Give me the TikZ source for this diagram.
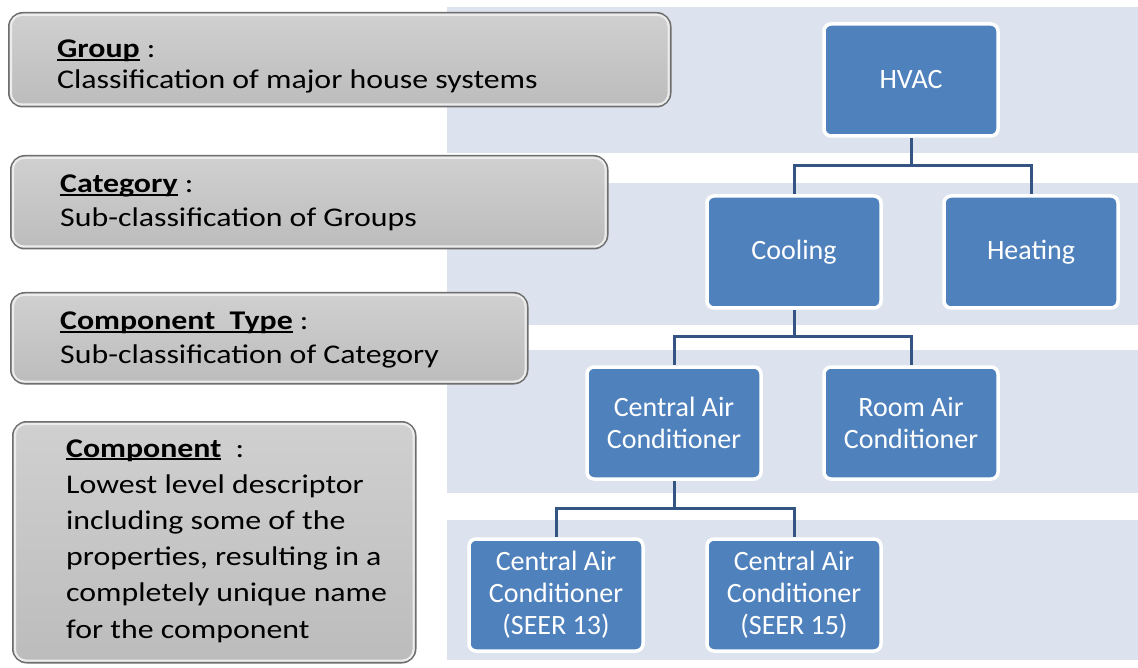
\documentclass[tikz,border=0pt]{standalone}
\usepackage{fontspec}
\setmainfont{Carlito}
\newfontfamily\leftfont[FakeStretch=1.18]{Carlito}
\pgfdeclarelayer{bands}
\pgfdeclarelayer{edges}
\pgfsetlayers{bands,edges,main}
\newcommand{\ulword}[1]{\setbox0\hbox{#1}\rlap{\rule[-3.2pt]{\wd0}{1.8pt}}\box0\relax}
\definecolor{boxtop}{RGB}{208,208,208}
\definecolor{boxbot}{RGB}{188,188,188}
\definecolor{boxedge}{RGB}{110,110,110}
\definecolor{bandblue}{RGB}{220,227,238}
\definecolor{nodeblue}{RGB}{79,129,189}
\definecolor{connblue}{RGB}{52,84,132}
\begin{document}
\begin{tikzpicture}[x=1pt,y=-1pt,
  graybox/.style={rectangle, rounded corners=14pt, top color=boxtop, bottom color=boxbot, draw=boxedge, line width=1.5pt, anchor=north west, inner sep=0pt},
  innerline/.style={draw=white!85!gray, line width=2pt, rounded corners=11pt},
  lefttext/.style={anchor=base west, inner sep=0pt, font=\leftfont\fontsize{27}{32}\selectfont, text=black},
  treenode/.style={rectangle, rounded corners=7pt, fill=nodeblue, draw=white, line width=3.5pt, minimum width=174pt, minimum height=112pt, inner sep=0pt, text=white, align=center, font=\fontsize{28}{32}\selectfont},
  conn/.style={draw=connblue, line width=3pt},
  band/.style={fill=bandblue, draw=none}]
\useasboundingbox (0,0) rectangle (1138,668);

% background bands
\begin{pgfonlayer}{bands}
\fill[white] (0,0) rectangle (1138,668);
\fill[band] (447,7) rectangle (1138,153);
\fill[band] (447,183) rectangle (1138,325);
\fill[band] (447,350) rectangle (1138,493);
\fill[band] (447,520) rectangle (1138,660);
\end{pgfonlayer}

% left description boxes
\node[graybox, minimum width=662pt, minimum height=94pt] (grpbox) at (8,12) {};
\draw[innerline] ([shift={(3,3)}]grpbox.north west) rectangle ([shift={(-3,-3)}]grpbox.south east);
\node[graybox, minimum width=597pt, minimum height=93pt] (catbox) at (10,155) {};
\draw[innerline] ([shift={(3,3)}]catbox.north west) rectangle ([shift={(-3,-3)}]catbox.south east);
\node[graybox, minimum width=517pt, minimum height=91pt] (ctbox) at (10,292) {};
\draw[innerline] ([shift={(3,3)}]ctbox.north west) rectangle ([shift={(-3,-3)}]ctbox.south east);
\node[graybox, minimum width=403pt, minimum height=241pt] (cmpbox) at (12,421) {};
\draw[innerline] ([shift={(3,3)}]cmpbox.north west) rectangle ([shift={(-3,-3)}]cmpbox.south east);

\node[lefttext] (grp1) at (57,58) {\ulword{\bfseries Group} :};
\node[lefttext] (grp2) at (57,89) {Classification of major house systems};
\node[lefttext] (cat1) at (60,193) {\ulword{\bfseries Category} :};
\node[lefttext] (cat2) at (60,227) {Sub-classification of Groups};
\node[lefttext] (ct1) at (60,330) {\ulword{\bfseries Component\ \ Type} :};
\node[lefttext] (ct2) at (60,363) {Sub-classification of Category};
\node[lefttext] (cmp1) at (66,457) {\ulword{\bfseries Component}\ \ :};
\node[lefttext] (cmp2) at (66,493) {Lowest level descriptor};
\node[lefttext] (cmp3) at (66,529) {including some of the};
\node[lefttext] (cmp4) at (66,565) {properties, resulting in a};
\node[lefttext] (cmp5) at (66,601) {completely unique name};
\node[lefttext] (cmp6) at (66,638) {for the component};

% tree
\node[treenode] (hvac) at (911,80) {HVAC};
\node[treenode] (cool) at (794,252) {Cooling};
\node[treenode] (heat) at (1031,252) {Heating};
\node[treenode] (cac) at (674,423) {Central Air\\Conditioner};
\node[treenode] (rac) at (911,423) {Room Air\\Conditioner};
\node[treenode] (s13) at (556,595) {Central Air\\Conditioner\\(SEER 13)};
\node[treenode] (s15) at (794,595) {Central Air\\Conditioner\\(SEER 15)};

\coordinate (j1) at (911,166);
\coordinate (j2) at (794,337);
\coordinate (j3) at (674,508);

\begin{pgfonlayer}{edges}
\draw[conn] (hvac.south) -- (j1) -| (cool.north);
\draw[conn] (j1) -| (heat.north);
\draw[conn] (cool.south) -- (j2) -| (cac.north);
\draw[conn] (j2) -| (rac.north);
\draw[conn] (cac.south) -- (j3) -| (s13.north);
\draw[conn] (j3) -| (s15.north);
\end{pgfonlayer}
\end{tikzpicture}
\end{document}
